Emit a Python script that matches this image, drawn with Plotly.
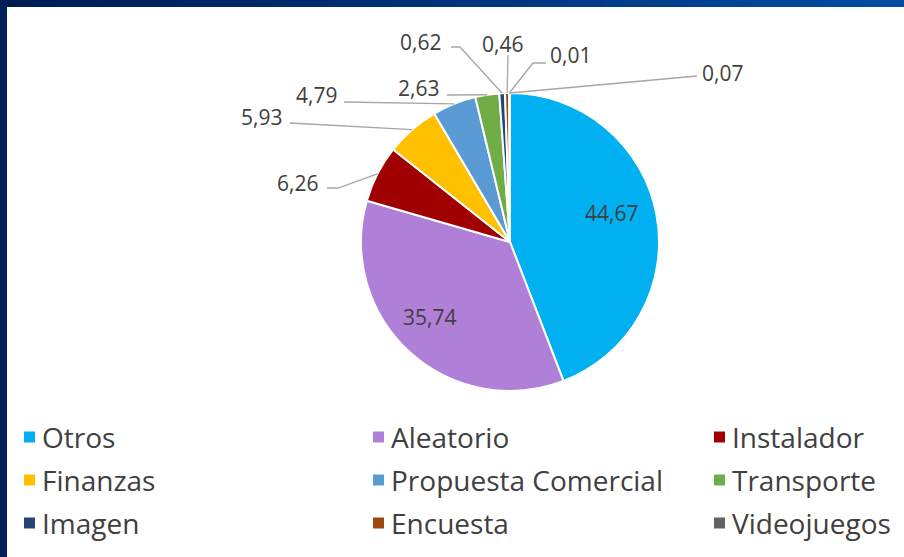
import math
import plotly.graph_objects as go

# ---------------- data ----------------
categories = ["Otros", "Aleatorio", "Instalador", "Finanzas", "Propuesta Comercial",
              "Transporte", "Imagen", "Encuesta", "Videojuegos", "Sin leyenda"]
values = [44.67, 35.74, 6.26, 5.93, 4.79, 2.63, 0.62, 0.46, 0.01, 0.07]
colors = ["#00B0F0", "#B07FD8", "#A00000", "#FFC000", "#5B9BD5",
          "#70AD47", "#264478", "#9E480E", "#636363", "#997300"]
legend_count = 9  # the last slice has no legend entry in the original

# ---------------- layout constants ----------------
W, H = 904, 557
CX, CY, R = 510, 242, 149
FONT = "Open Sans"
TXT = "#404040"
LINE = "#A6A6A6"

def px(x):
    return x / W

def py(y):
    return 1 - y / H

# label placement per slice
#   ("in", radius fraction, angle offset in degrees)
#   ("out", text anchor x, text y, xanchor, leader points on the label side)
label_layout = [
    ("in", 0.71, -5.4),
    ("in", 0.74, 4.3),
    ("out", 320, 183, "right", [(327, 188), (338, 188)]),
    ("out", 284, 117, "right", [(290, 123)]),
    ("out", 339, 95, "right", [(344, 102)]),
    ("out", 441, 88, "right", [(447, 95)]),
    ("out", 443, 42, "right", [(451, 47), (460, 47)]),
    ("out", 503, 44, "center", [(508, 55)]),
    ("out", 548, 55, "left", [(546, 63), (533, 63)]),
    ("out", 700, 73, "left", [(697, 76)]),
]

fig = go.Figure()
fig.add_trace(go.Pie(
    labels=categories,
    values=values,
    sort=False,
    direction="clockwise",
    rotation=0,
    marker=dict(colors=colors, line=dict(color="white", width=2)),
    textinfo="none",
    hoverinfo="label+value",
    showlegend=False,
    domain=dict(x=[px(CX - R), px(CX + R)], y=[py(CY + R), py(CY - R)]),
))

annotations = []
shapes = []
total = sum(values)
cum = 0.0
for v, lay in zip(values, label_layout):
    mid = (cum + v / 2) / total * 2 * math.pi
    cum += v
    text = f"{v:.2f}".replace(".", ",")
    if lay[0] == "in":
        f, off = lay[1], math.radians(lay[2])
        x = CX + f * R * math.sin(mid + off)
        y = CY - f * R * math.cos(mid + off)
        annotations.append(dict(x=px(x), y=py(y), xref="paper", yref="paper", text=text,
                                showarrow=False, xanchor="center", yanchor="middle",
                                font=dict(family=FONT, size=21, color=TXT)))
    else:
        _, tx, ty, xa, pts = lay
        ex = CX + R * math.sin(mid)
        ey = CY - R * math.cos(mid)
        allp = pts + [(ex, ey)]
        path = "M " + " L ".join(f"{px(a):.5f},{py(b):.5f}" for a, b in allp)
        shapes.append(dict(type="path", path=path, xref="paper", yref="paper",
                           line=dict(color=LINE, width=1.3)))
        annotations.append(dict(x=px(tx), y=py(ty), xref="paper", yref="paper", text=text,
                                showarrow=False, xanchor=xa, yanchor="middle",
                                font=dict(family=FONT, size=21, color=TXT)))

# ---------------- legend (3 columns) ----------------
col_x = [24, 373, 714]
row_y = [437, 480, 523]
SQ = 11
for i in range(legend_count):
    r_, c_ = divmod(i, 3)
    x0, yc = col_x[c_], row_y[r_]
    shapes.append(dict(type="rect", xref="paper", yref="paper",
                       x0=px(x0), x1=px(x0 + SQ), y0=py(yc + SQ / 2), y1=py(yc - SQ / 2),
                       fillcolor=colors[i], line=dict(width=0)))
    annotations.append(dict(x=px(x0 + SQ + 5), y=py(yc), xref="paper", yref="paper",
                            text=categories[i], showarrow=False, xanchor="left",
                            yanchor="middle",
                            font=dict(family=FONT, size=28, color=TXT)))

# ---------------- frame ----------------
c0 = (0, 27, 82)
c1 = (0, 76, 162)
N = 60
for k in range(N):
    t = k / (N - 1)
    col = tuple(round(c0[j] + (c1[j] - c0[j]) * t) for j in range(3))
    shapes.append(dict(type="rect", xref="paper", yref="paper",
                       x0=k / N, x1=(k + 1) / N + 0.002, y0=py(7), y1=1,
                       fillcolor=f"rgb{col}", line=dict(width=0), layer="above"))
shapes.append(dict(type="rect", xref="paper", yref="paper", x0=0, x1=px(7), y0=0, y1=1,
                   fillcolor="rgb(0,30,88)", line=dict(width=0), layer="above"))

fig.update_layout(
    width=W, height=H,
    margin=dict(l=0, r=0, t=0, b=0),
    paper_bgcolor="white",
    plot_bgcolor="white",
    shapes=shapes,
    annotations=annotations,
)

fig.write_html("out.html")
